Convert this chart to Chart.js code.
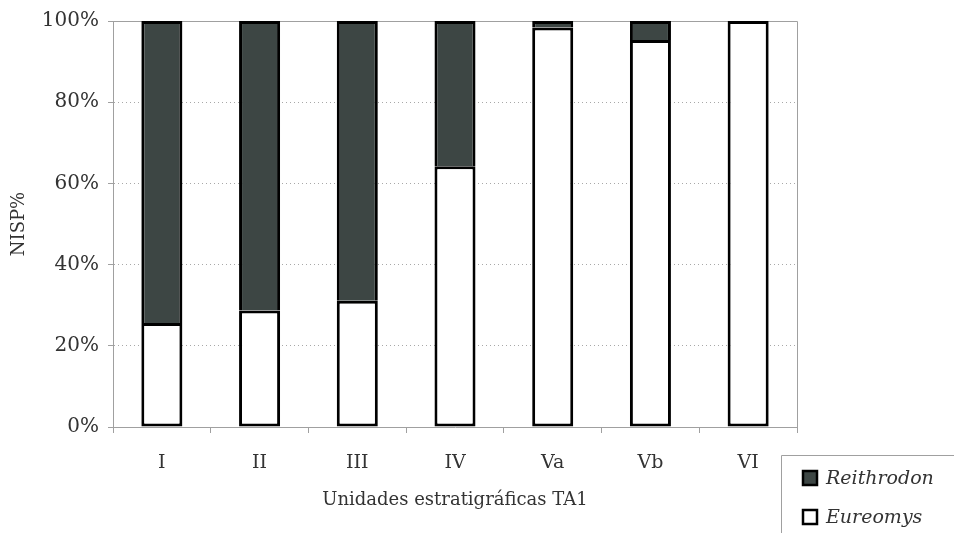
<!DOCTYPE html>
<html>
<head>
<meta charset="utf-8">
<script src="https://cdn.jsdelivr.net/npm/chart.js@4.4.1/dist/chart.umd.min.js"></script>
<style>
  html, body { margin: 0; padding: 0; background: #fff; }
  #wrap { position: relative; width: 954px; height: 533px; }
</style>
</head>
<body>
<div id="wrap"><canvas id="chart" width="954" height="533"></canvas></div>
<script>
// datos NISP% por unidad estratigráfica
const categories = ['I', 'II', 'III', 'IV', 'Va', 'Vb', 'VI'];
const eureomys = [25.6, 28.7, 31.1, 64.2, 98.4, 95.3, 100];
const reithrodon = [74.4, 71.3, 68.9, 35.8, 1.6, 4.7, 0];
const yTicks = [0, 20, 40, 60, 80, 100];

const fontFam = '"DejaVu Serif", serif';
const txtColor = '#333';
const gray = '#a0a0a0';

// marco del area de grafico + leyenda abajo a la derecha
const framePlugin = {
    id: 'frame',
    beforeDatasetsDraw(chart) {
        const { ctx, chartArea: a } = chart;
        ctx.save();
        ctx.strokeStyle = gray;
        ctx.lineWidth = 1;
        ctx.beginPath();
        ctx.moveTo(a.left, a.top + 0.5);
        ctx.lineTo(a.right + 0.5, a.top + 0.5);
        ctx.lineTo(a.right + 0.5, a.bottom);
        ctx.stroke();
        ctx.restore();
    },
    afterDraw(chart) {
        const ctx = chart.ctx;
        ctx.save();
        ctx.strokeStyle = gray;
        ctx.lineWidth = 1;
        ctx.beginPath();
        ctx.moveTo(781.5, 533);
        ctx.lineTo(781.5, 455.5);
        ctx.lineTo(954, 455.5);
        ctx.stroke();

        const items = chart.data.datasets.slice().reverse();
        items.forEach((ds, i) => {
            const y = 478 + i * 39;
            ctx.fillStyle = ds.backgroundColor;
            ctx.fillRect(803, y - 7, 14, 14);
            ctx.strokeStyle = '#000';
            ctx.lineWidth = 2.5;
            ctx.strokeRect(803, y - 7, 14, 14);
            ctx.fillStyle = txtColor;
            ctx.font = 'italic 19px ' + fontFam;
            ctx.textBaseline = 'middle';
            ctx.textAlign = 'left';
            ctx.fillText(ds.label, 826, y + 1);
        });
        ctx.restore();
    }
};

new Chart(document.getElementById('chart'), {
    type: 'bar',
    data: {
        labels: categories,
        datasets: [
            { label: 'Eureomys', data: eureomys, backgroundColor: '#ffffff', borderColor: '#000', borderWidth: 3, borderSkipped: false },
            { label: 'Reithrodon', data: reithrodon, backgroundColor: '#3d4644', borderColor: '#000', borderWidth: 3, borderSkipped: 'bottom' }
        ]
    },
    options: {
        responsive: false,
        animation: false,
        layout: { padding: { top: 19, right: 157, left: 0, bottom: 0 } },
        datasets: { bar: { categoryPercentage: 1, barPercentage: 0.42 } },
        plugins: { legend: { display: false }, tooltip: { enabled: false } },
        scales: {
            x: {
                stacked: true,
                grid: { drawOnChartArea: false, offset: true, tickLength: 6, tickColor: gray, color: gray },
                border: { color: gray, width: 1 },
                ticks: { color: txtColor, font: { family: fontFam, size: 19 }, padding: 19 },
                title: { display: true, text: 'Unidades estratigráficas TA1', color: txtColor, font: { family: fontFam, size: 18 }, padding: { top: 0, bottom: 22 } },
                afterFit(scale) { scale.height = 106; }
            },
            y: {
                stacked: true,
                min: 0,
                max: 100,
                afterBuildTicks(scale) { scale.ticks = yTicks.map(v => ({ value: v })); },
                grid: { color: '#a8a8a8', tickLength: 5, tickColor: gray, lineWidth: 1 },
                border: { color: gray, width: 1, dash: [1, 3] },
                ticks: { color: txtColor, font: { family: fontFam, size: 20 }, padding: 9, callback: v => v + '%' },
                title: { display: true, text: 'NISP%', color: txtColor, font: { family: fontFam, size: 18 }, padding: { top: 9, bottom: 0 } },
                afterFit(scale) { scale.width = 113; }
            }
        }
    },
    plugins: [framePlugin]
});
</script>
</body>
</html>
